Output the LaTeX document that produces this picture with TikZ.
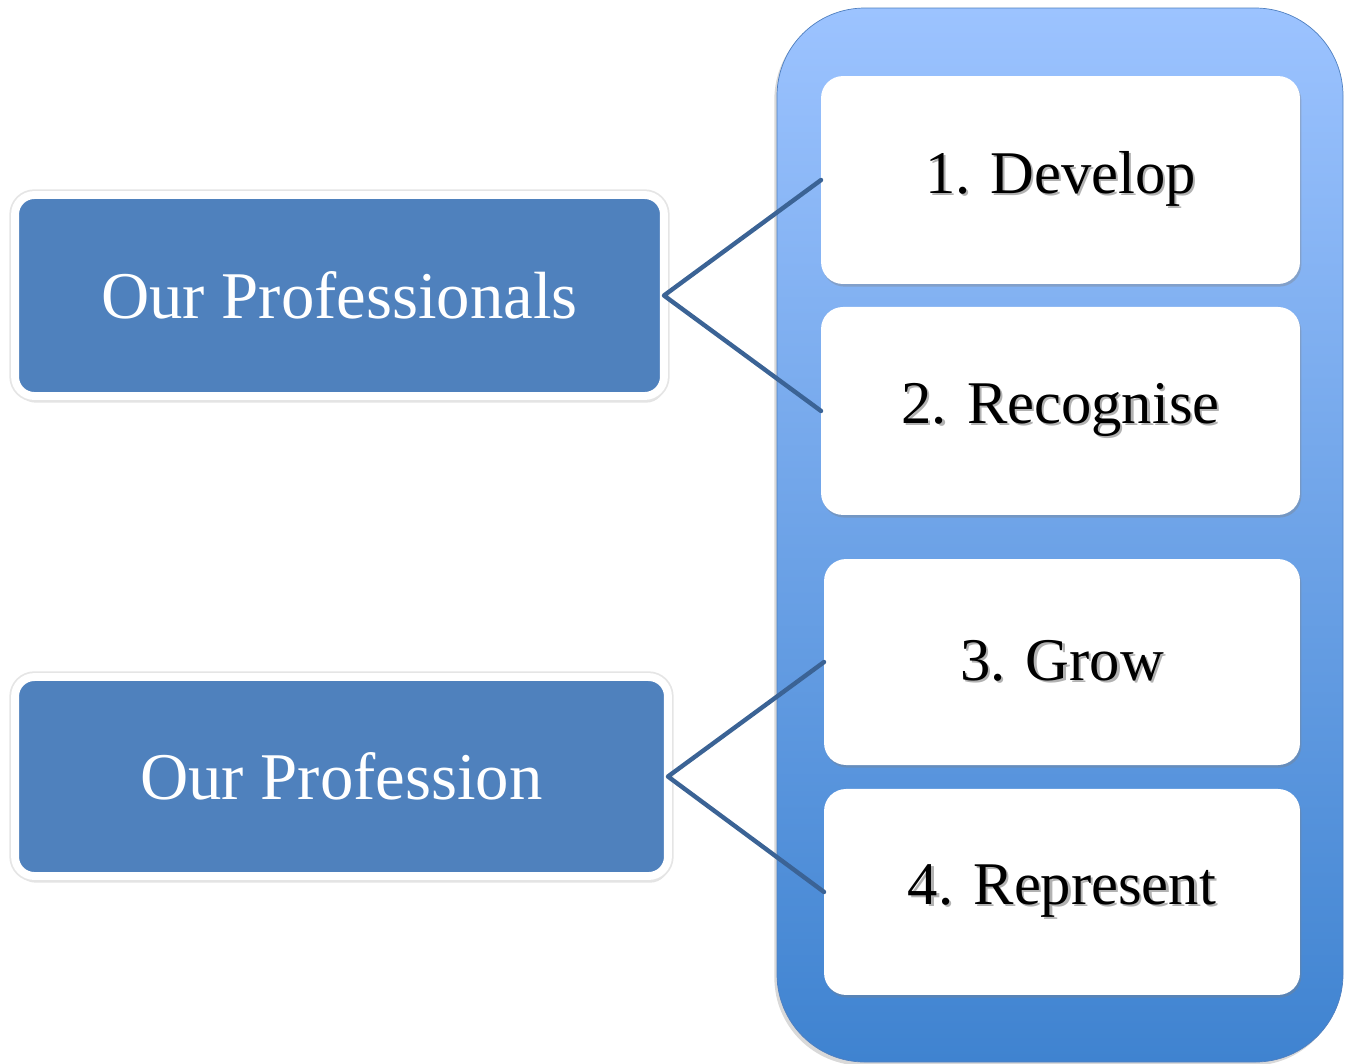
\documentclass[tikz,border=0pt]{standalone}
\usepackage{fontspec}
\setmainfont{Liberation Serif}
\usetikzlibrary{shadows,positioning}
\definecolor{boxblue}{HTML}{4F81BD}
\definecolor{linkblue}{HTML}{3B6395}
\definecolor{paneltop}{HTML}{9CC3FF}
\definecolor{panelbot}{HTML}{3F83D0}
\definecolor{panelline}{HTML}{4F7FBF}
\newcommand{\shtext}[1]{\rlap{\hspace{1.3pt}\raisebox{-1.3pt}{\color{black!30}#1}}#1}
\begin{document}
\begin{tikzpicture}[x=0.02cm,y=-0.02cm,line join=round,line cap=round]
	\tikzset{
		side/.style={draw=white,line width=4.5pt,fill=boxblue,rounded corners=11pt,outer sep=0pt,
			text=white,font=\fontsize{38}{44}\selectfont,
			drop shadow={shadow xshift=0.8pt,shadow yshift=-3.8pt,opacity=0.22},
			preaction={draw=black!10,line width=6.5pt}},
		item/.style={fill=white,rounded corners=12.5pt,outer sep=0pt,
			font=\fontsize{34.5}{40}\selectfont,
			drop shadow={shadow xshift=0.8pt,shadow yshift=-1.5pt,opacity=0.35}},
		link/.style={draw=linkblue,line width=2.5pt}
	}
	\useasboundingbox (0,0) rectangle (1351,1063);
	\draw[draw=panelline,top color=paneltop,bottom color=panelbot,rounded corners=50pt,
		drop shadow={shadow xshift=-1.5pt,shadow yshift=-2pt,opacity=0.3}] (777,8) rectangle (1343,1062);
	\node[item,minimum width=9.58cm,minimum height=4.16cm] (develop) at (1060.5,180) {\shtext{1. Develop}};
	\node[item,minimum width=9.58cm,minimum height=4.16cm,below=0.46cm of develop] (recognise) {\shtext{2. Recognise}};
	\node[item,minimum width=9.52cm,minimum height=4.12cm] (grow) at (1062,662) {\shtext{3. Grow}};
	\node[item,minimum width=9.52cm,minimum height=4.12cm,below=0.48cm of grow] (represent) {\shtext{4. Represent}};
	\node[side,minimum width=12.98cm,minimum height=4.02cm] (pros) at (339.5,295.5) {Our Professionals};
	\node[side,minimum width=13.06cm,minimum height=3.98cm] (prof) at (341.5,776.5) {Our Profession};
	\draw[link] (develop.west) -- (pros.east) -- (recognise.west);
	\draw[link] (grow.west) -- (prof.east) -- (represent.west);
\end{tikzpicture}
\end{document}
